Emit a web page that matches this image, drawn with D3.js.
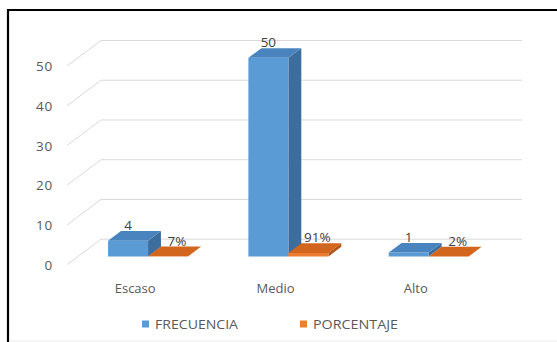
<!DOCTYPE html>
<html>
<head>
<meta charset="utf-8">
<script src="https://cdn.jsdelivr.net/npm/d3@7"></script>
<style>
  html, body { margin: 0; padding: 0; background: #fff; }
  svg { display: block; }
  text { font-family: "Open Sans", "Liberation Sans", sans-serif; }
</style>
</head>
<body>
<svg id="chart" width="557" height="342"></svg>
<script>
// ---- data ----
const categories = ["Escaso", "Medio", "Alto"];
const seriesNames = ["FRECUENCIA", "PORCENTAJE"];
const frecuencia = [4, 50, 1];
const porcentaje = [0.07, 0.91, 0.02];
const porcentajeLabels = ["7%", "91%", "2%"];
const yTicks = [0, 10, 20, 30, 40, 50];

// ---- styles ----
const colors = {
  FRECUENCIA: { front: "#5B9BD5", top: "#4A84BF", side: "#3D6D9C" },
  PORCENTAJE: { front: "#ED7D31", top: "#D2661C", side: "#B0541A" }
};

const svg = d3.select("#chart");
const W = 557, H = 342;

svg.append("rect").attr("width", W).attr("height", H).attr("fill", "#fff");

// ---- scales (front plane) ----
const y = d3.scaleLinear().domain([0, 50]).range([264.7, 66]);
const x = d3.scaleBand().domain(categories).range([67, 488]).padding(0);
const groupFrac = 0.57;
const sub = d3.scaleBand().domain(seriesNames)
  .range([x.bandwidth() * (1 - groupFrac) / 2, x.bandwidth() * (1 + groupFrac) / 2]);

// depth projection (oblique)
const DX = 34, DY = -25.5;
const z0 = 0.32, z1 = 0.70;
const P = (px, v, z) => [px + z * DX, y(v) + z * DY];
const pts = arr => arr.map(p => p.join(",")).join(" ");

// ---- gridlines: back wall + side wall ----
const grid = svg.append("g").attr("stroke", "#D9D9D9").attr("stroke-width", 1).attr("fill", "none");
const [xl, xr] = x.range();
yTicks.forEach(t => {
  const a = P(xl, t, 0), b = P(xl, t, 1), c = P(xr, t, 1);
  grid.append("polyline").attr("points", pts([a, b, c]));
});

// ---- y axis labels ----
svg.append("g").selectAll("text").data(yTicks).join("text")
  .attr("x", d => P(xl, d, 0)[0] - 14)
  .attr("y", d => P(xl, d, 0)[1] + 1.5)
  .attr("text-anchor", "end")
  .attr("dominant-baseline", "middle")
  .attr("font-size", 13.5)
  .attr("letter-spacing", 0.8)
  .attr("fill", "#595959")
  .text(d => d);

// ---- bars ----
const rows = [];
categories.forEach((c, i) => {
  rows.push({ cat: c, s: "FRECUENCIA", v: frecuencia[i], label: String(frecuencia[i]), dx: 0 });
  rows.push({ cat: c, s: "PORCENTAJE", v: porcentaje[i], label: porcentajeLabels[i], dx: 9 });
});

const bars = svg.append("g");
rows.forEach(r => {
  const x0 = x(r.cat) + sub(r.s), x1 = x0 + sub.bandwidth();
  const col = colors[r.s];
  const g = bars.append("g");
  g.append("polygon").attr("points", pts([P(x1, 0, z0), P(x1, 0, z1), P(x1, r.v, z1), P(x1, r.v, z0)]))
    .attr("fill", col.side);
  g.append("polygon").attr("points", pts([P(x0, 0, z0), P(x1, 0, z0), P(x1, r.v, z0), P(x0, r.v, z0)]))
    .attr("fill", col.front);
  g.append("polygon").attr("points", pts([P(x0, r.v, z0), P(x1, r.v, z0), P(x1, r.v, z1), P(x0, r.v, z1)]))
    .attr("fill", col.top);
  r.lx = (P(x0, r.v, z0)[0] + P(x1, r.v, z0)[0]) / 2 + r.dx;
  r.ly = P(x0, r.v, z1)[1] - 1;
});

// ---- data labels ----
svg.append("g").selectAll("text").data(rows).join("text")
  .attr("x", d => d.lx)
  .attr("y", d => d.ly)
  .attr("text-anchor", "middle")
  .attr("font-size", 13.5)
  .attr("fill", "#404040")
  .text(d => d.label);

// ---- category labels ----
svg.append("g").selectAll("text").data(categories).join("text")
  .attr("x", d => x(d) + x.bandwidth() / 2 - 2)
  .attr("y", 292.5)
  .attr("text-anchor", "middle")
  .attr("font-size", 13)
  .attr("fill", "#595959")
  .text(d => d);

// ---- legend ----
const legendX = [142, 300];
const legendLen = [83, 85];
const lg = svg.append("g");
seriesNames.forEach((s, i) => {
  lg.append("rect").attr("x", legendX[i]).attr("y", 320.5).attr("width", 7).attr("height", 7)
    .attr("fill", colors[s].front);
  lg.append("text").attr("x", legendX[i] + 13).attr("y", 328.5)
    .attr("font-size", 12.5).attr("fill", "#595959")
    .attr("textLength", legendLen[i]).attr("lengthAdjust", "spacingAndGlyphs")
    .text(s);
});

// ---- frame ----
svg.append("line").attr("x1", 7).attr("x2", W).attr("y1", 10).attr("y2", 10)
  .attr("stroke", "#000").attr("stroke-width", 2.2);
svg.append("line").attr("x1", 8).attr("x2", 8).attr("y1", 9).attr("y2", H)
  .attr("stroke", "#000").attr("stroke-width", 2.2);
svg.append("line").attr("x1", 9).attr("x2", W).attr("y1", 341).attr("y2", 341)
  .attr("stroke", "#EAEAEA").attr("stroke-width", 1);
</script>
</body>
</html>
